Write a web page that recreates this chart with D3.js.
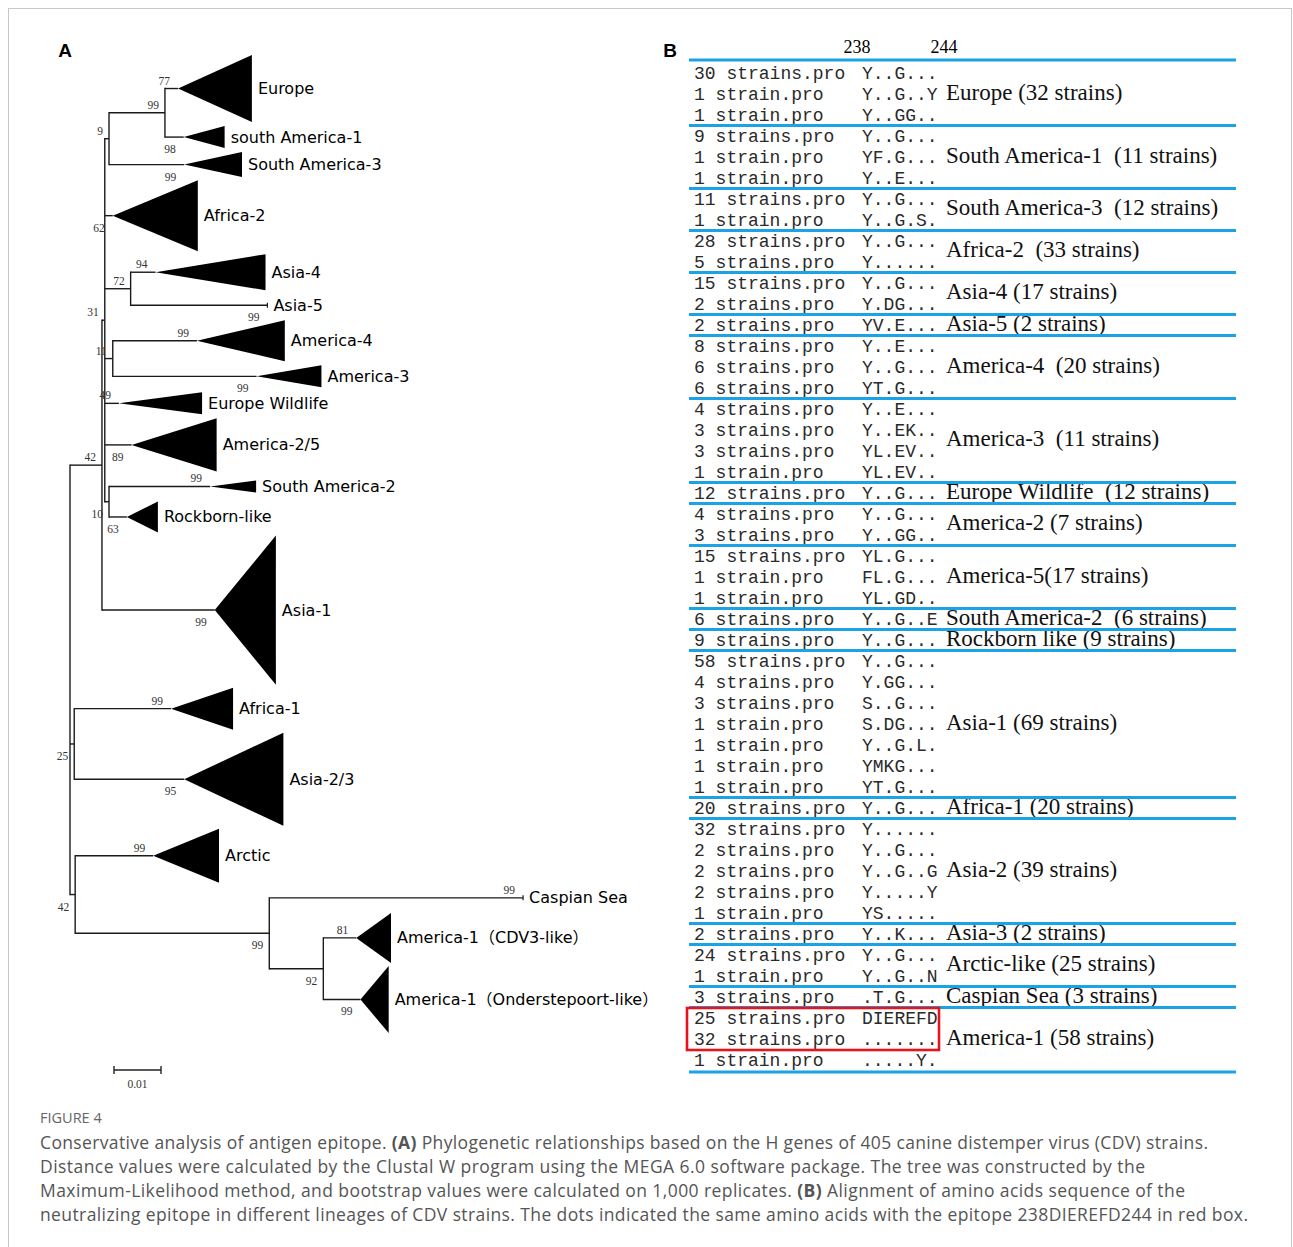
<!DOCTYPE html>
<html><head><meta charset="utf-8">
<script src="https://cdn.jsdelivr.net/npm/d3@7"></script>
<style>body{margin:0;background:#fff}svg{display:block}text{white-space:pre}</style>
</head><body><svg id="c" width="1293" height="1247"></svg>
<script>
// ===== Panel A: tree data =====
const nodeIds      = ["root","P","Q","N9","N99","Europe","SA1","SA3","Africa2","N72","Asia4","Asia5","N11","America4","America3","EuropeWildlife","America25","N10","SA2","Rockborn","Asia1","N25","Africa1","Asia23","N42b","Arctic","N99b","Caspian","N92","CDV3","Onder"];
const nodeParents  = ["","root","P","Q","N9","N99","N99","N9","Q","Q","N72","N72","Q","N11","N11","Q","Q","Q","N10","N10","P","root","N25","N25","root","N42b","N42b","N99b","N99b","N92","N92"];
const branchLengths= [0,0.0068,0.0006,0.0009,0.0119,0.0028,0.0040,0.0160,0.0017,0.0055,0.0053,0.0291,0.0017,0.0179,0.0306,0.0030,0.0057,0.0009,0.0215,0.0038,0.0240,0.0009,0.0206,0.0234,0.0011,0.0166,0.0413,0.0540,0.0115,0.0070,0.0079];
const bootstraps   = [null,42,31,9,99,77,98,99,62,72,94,99,11,99,99,49,89,10,99,63,99,25,99,95,42,99,99,99,92,81,99];
const bootSides    = ["","a","a","a","a","a","b","b","b","a","a","b","a","a","b","a","b","b","a","b","b","b","a","b","b","a","b","a","b","a","b"];

const cladeIds     = ["Europe","SA1","SA3","Africa2","Asia4","Asia5","America4","America3","EuropeWildlife","America25","SA2","Rockborn","Asia1","Africa1","Asia23","Arctic","Caspian","CDV3","Onder"];
const cladeNames   = ["Europe","south America-1","South America-3","Africa-2","Asia-4","Asia-5","America-4","America-3","Europe Wildlife","America-2/5","South America-2","Rockborn-like","Asia-1","Africa-1","Asia-2/3","Arctic","Caspian Sea","America-1（CDV3-like）","America-1（Onderstepoort-like）"];
const cladeDepths  = [0.0157,0.0087,0.0123,0.0181,0.0234,0,0.0187,0.0138,0.0177,0.0181,0.0098,0.0066,0.0130,0.0132,0.0211,0.0140,0,0.0074,0.0060];
const cladeSpreads = [67,22,25,71,36,0,41,22,22,53,12,31,149,42,93,54,0,50,67];
const scaleBarValue = 0.01;

// ===== Panel B: alignment data =====
const rowStrains = [30,1,1, 9,1,1, 11,1, 28,5, 15,2, 2, 8,6,6, 4,3,3,1, 12, 4,3, 15,1,1, 6, 9, 58,4,3,1,1,1,1, 20, 32,2,2,2,1, 2, 24,1, 3, 25,32,1];
const rowSeqs = ["Y..G...","Y..G..Y","Y..GG..","Y..G...","YF.G...","Y..E...","Y..G...","Y..G.S.","Y..G...","Y......","Y..G...","Y.DG...","YV.E...","Y..E...","Y..G...","YT.G...","Y..E...","Y..EK..","YL.EV..","YL.EV..","Y..G...","Y..G...","Y..GG..","YL.G...","FL.G...","YL.GD..","Y..G..E","Y..G...","Y..G...","Y.GG...","S..G...","S.DG...","Y..G.L.","YMKG...","YT.G...","Y..G...","Y......","Y..G...","Y..G..G","Y.....Y","YS.....","Y..K...","Y..G...","Y..G..N",".T.G...","DIEREFD",".......",".....Y."];
const groupSizes = [3,3,2,2,2,1,3,4,1,2,3,1,1,7,1,5,1,2,1,3];
const groupLabels = ["Europe (32 strains)","South America-1  (11 strains)","South America-3  (12 strains)","Africa-2  (33 strains)","Asia-4 (17 strains)","Asia-5 (2 strains)","America-4  (20 strains)","America-3  (11 strains)","Europe Wildlife  (12 strains)","America-2 (7 strains)","America-5(17 strains)","South America-2  (6 strains)","Rockborn like (9 strains)","Asia-1 (69 strains)","Africa-1 (20 strains)","Asia-2 (39 strains)","Asia-3 (2 strains)","Arctic-like (25 strains)","Caspian Sea (3 strains)","America-1 (58 strains)"];
const epitopePositions = [238, 244];
const highlightRows = [45, 46];

const captionTitle = "FIGURE 4";
const captionLines = [
  [["Conservative analysis of antigen epitope. ",0],["(A)",1],[" Phylogenetic relationships based on the H genes of 405 canine distemper virus (CDV) strains.",0]],
  [["Distance values were calculated by the Clustal W program using the MEGA 6.0 software package. The tree was constructed by the",0]],
  [["Maximum-Likelihood method, and bootstrap values were calculated on 1,000 replicates. ",0],["(B)",1],[" Alignment of amino acids sequence of the",0]],
  [["neutralizing epitope in different lineages of CDV strains. The dots indicated the same amino acids with the epitope 238DIEREFD244 in red box.",0]]
];
const captionWidths = [1168, 1105, 1145, 1208];

// ===== drawing =====
const svg = d3.select("#c");
svg.append("rect").attr("width",1293).attr("height",1247).attr("fill","#fff");
svg.append("rect").attr("x",8.5).attr("y",8.5).attr("width",1283).attr("height",1260)
  .attr("fill","none").attr("stroke","#c8c8c8").attr("stroke-width",1);

// ---- Panel A ----
const nodes = nodeIds.map((id,i)=>({id, parent: nodeParents[i]||null, len: branchLengths[i], boot: bootstraps[i], side: bootSides[i]}));
const root = d3.stratify().id(d=>d.id).parentId(d=>d.parent)(nodes);
root.eachBefore(n => { n.dist = n.parent ? n.parent.dist + n.data.len : 0; });

const xT = d3.scaleLinear().domain([0, 0.1]).range([70, 540]);
const leaves = root.leaves();
const MIN_SLOT = 24, GAP = 3;
let u = 0;
leaves.forEach((l,i) => {
  const k = cladeIds.indexOf(l.id);
  l.name = cladeNames[k]; l.tri = cladeDepths[k]; l.spread = cladeSpreads[k];
  const e = Math.max(l.spread, MIN_SLOT);
  if (i > 0) u += GAP;
  l.uc = u + e/2; u += e;
});
const yT = d3.scaleLinear().domain([0, u]).range([55, 1033]);
leaves.forEach(l => { l.y = yT(l.uc); });
root.eachAfter(n => { if (n.children) n.y = (n.children[0].y + n.children[n.children.length-1].y)/2; });
const pxPerUnit = yT(1) - yT(0);

const gA = svg.append("g");
const stroke = "#1a1a1a", sw = 1.4;
root.descendants().forEach(n => {
  if (n.parent) gA.append("line").attr("x1", xT(n.parent.dist)).attr("x2", xT(n.dist))
    .attr("y1", n.y).attr("y2", n.y).attr("stroke", stroke).attr("stroke-width", sw);
  if (n.children) gA.append("line").attr("x1", xT(n.dist)).attr("x2", xT(n.dist))
    .attr("y1", n.children[0].y - sw/2).attr("y2", n.children[n.children.length-1].y + sw/2)
    .attr("stroke", stroke).attr("stroke-width", sw);
});
leaves.forEach(l => {
  const ax = xT(l.dist), tx = xT(l.dist + l.tri), h = l.spread * pxPerUnit / 2;
  if (l.spread > 0) {
    gA.append("path").attr("d", `M${ax},${l.y}L${tx},${l.y-h}L${tx},${l.y+h}Z`).attr("fill", "#000");
  } else {
    gA.append("line").attr("x1", tx).attr("x2", tx).attr("y1", l.y-2.5).attr("y2", l.y+2.5)
      .attr("stroke", stroke).attr("stroke-width", 1.2);
  }
  gA.append("text").attr("x", tx + 6).attr("y", l.y).attr("dominant-baseline","central")
    .attr("font-family", "'DejaVu Sans','Noto Sans CJK SC',sans-serif").attr("font-size", 16)
    .attr("fill", "#000").text(l.name);
});
// bootstrap values
root.descendants().forEach(n => {
  if (n.data.boot == null) return;
  const bx = n.children ? xT(n.dist) - 6 : (n.spread > 0 ? xT(n.dist) - 8 : xT(n.dist + n.tri) - 8);
  const by = n.y + (n.data.side === "a" ? -8 : 12);
  gA.append("text").attr("x", bx).attr("y", by).attr("text-anchor","end").attr("dominant-baseline","central")
    .attr("font-family","'Liberation Serif',serif").attr("font-size",11.5).attr("fill","#333").text(n.data.boot);
});
// scale bar
const sbx = 114, sbw = xT(scaleBarValue) - xT(0), sby = 1070;
gA.append("line").attr("x1",sbx).attr("x2",sbx+sbw).attr("y1",sby).attr("y2",sby).attr("stroke","#222").attr("stroke-width",1.4);
[sbx, sbx+sbw].forEach(x => gA.append("line").attr("x1",x).attr("x2",x).attr("y1",sby-4).attr("y2",sby+4).attr("stroke","#222").attr("stroke-width",1.4));
gA.append("text").attr("x", sbx+sbw/2).attr("y", 1084).attr("text-anchor","middle").attr("dominant-baseline","central")
  .attr("font-family","'Liberation Serif',serif").attr("font-size",11.5).attr("fill","#333").text(scaleBarValue.toFixed(2));

svg.append("text").attr("x",65).attr("y",50).attr("text-anchor","middle").attr("dominant-baseline","central")
  .attr("font-family","'Liberation Sans',Arial,sans-serif").attr("font-weight","bold").attr("font-size",19).text("A");
svg.append("text").attr("x",670).attr("y",50).attr("text-anchor","middle").attr("dominant-baseline","central")
  .attr("font-family","'Liberation Sans',Arial,sans-serif").attr("font-weight","bold").attr("font-size",19).text("B");

// ---- Panel B ----
const gB = svg.append("g");
const rowY = d3.scaleLinear().domain([0, rowSeqs.length-1]).range([73, 1060]);
const colCount = 694, colSeq = 862;
const posX = d3.scaleLinear().domain(epitopePositions).range([857, 944]);
epitopePositions.forEach(p => gB.append("text").attr("x", posX(p)).attr("y", 47).attr("text-anchor","middle")
  .attr("dominant-baseline","central").attr("font-family","'Liberation Serif',serif").attr("font-size",18).attr("fill","#000").text(p));

rowStrains.forEach((n,i) => {
  gB.append("text").attr("x", colCount).attr("y", rowY(i)+1).attr("dominant-baseline","central")
    .attr("font-family","'Liberation Mono',monospace").attr("font-size",18).attr("fill","#2a2a2a")
    .text(n + (n === 1 ? " strain.pro" : " strains.pro"));
  gB.append("text").attr("x", colSeq).attr("y", rowY(i)+1).attr("dominant-baseline","central")
    .attr("font-family","'Liberation Mono',monospace").attr("font-size",18).attr("fill","#2a2a2a")
    .text(rowSeqs[i]);
});
const blue = "#1ba3e6";
const lineYs = [rowY(-0.62)];
let r = 0;
groupSizes.forEach((s, gi) => {
  const c = r + (s-1)/2;
  gB.append("text").attr("x", 946).attr("y", rowY(c) - 2).attr("dominant-baseline","central")
    .attr("font-family","'Liberation Serif','Times New Roman',serif").attr("font-size",23).attr("fill","#111").text(groupLabels[gi]);
  r += s;
  lineYs.push(gi === groupSizes.length-1 ? rowY(r-1+0.57) : rowY(r-0.5));
});
lineYs.forEach(y => gB.append("line").attr("x1",689).attr("x2",1236).attr("y1",y).attr("y2",y)
  .attr("stroke",blue).attr("stroke-width",3));
const hy0 = rowY(d3.min(highlightRows)) - 10, hy1 = rowY(d3.max(highlightRows)) + 11;
gB.append("rect").attr("x",687).attr("y",hy0).attr("width",252).attr("height",hy1-hy0)
  .attr("fill","none").attr("stroke","#e8141b").attr("stroke-width",2.6);

// ---- Caption ----
svg.append("text").attr("x",40).attr("y",1123).attr("font-family","'Open Sans',sans-serif")
  .attr("font-size",14.5).attr("fill","#666").text(captionTitle);
captionLines.forEach((parts, i) => {
  const t = svg.append("text").attr("x",40).attr("y",1149 + i*24).attr("font-family","'Open Sans',sans-serif")
    .attr("font-size",17.5).attr("fill","#555")
    .attr("textLength", captionWidths[i]).attr("lengthAdjust","spacing");
  parts.forEach(([s,b]) => t.append("tspan").attr("font-weight", b ? "bold" : null).text(s));
});
</script></body></html>
